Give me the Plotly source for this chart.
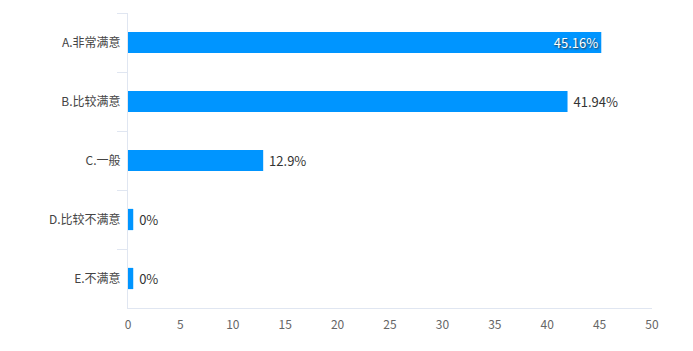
import plotly.graph_objects as go

categories = ["A.非常满意", "B.比较满意", "C.一般", "D.比较不满意", "E.不满意"]
values = [45.16, 41.94, 12.9, 0, 0]
value_labels = ["45.16%", "41.94%", "12.9%", "0%", "0%"]
x_ticks = [0, 5, 10, 15, 20, 25, 30, 35, 40, 45, 50]

MIN_BAR = 0.5  # minimum visible bar length (like a min bar height)
display_values = [v if v > MIN_BAR else MIN_BAR for v in values]
positions = ["inside" if i == 0 else "outside" for i in range(len(values))]

FONT = "Noto Sans CJK SC, Microsoft YaHei, sans-serif"
AXIS_COLOR = "#e0e6f1"

fig = go.Figure(
    go.Bar(
        x=display_values,
        y=categories,
        orientation="h",
        marker=dict(color="#0095ff", line=dict(width=0)),
        text=value_labels,
        texttemplate=" %{text}",
        textposition=positions,
        insidetextanchor="end",
        insidetextfont=dict(family=FONT, size=13, color="#ffffff",
                            shadow="1px 1px 2px #333333"),
        outsidetextfont=dict(family=FONT, size=13, color="#333333"),
        constraintext="none",
        cliponaxis=False,
        hoverinfo="skip",
    )
)

fig.update_layout(
    width=693,
    height=351,
    margin=dict(l=128, r=41, t=13, b=43),
    paper_bgcolor="white",
    plot_bgcolor="white",
    bargap=0.64,
    showlegend=False,
    font=dict(family=FONT, size=12, color="#666666"),
    uniformtext=dict(mode="show", minsize=13),
)

fig.update_xaxes(
    range=[0, 50],
    tickvals=x_ticks,
    showgrid=False,
    zeroline=False,
    showline=True,
    linecolor=AXIS_COLOR,
    linewidth=1,
    ticks="",
    ticklabelstandoff=6,
    tickfont=dict(family=FONT, size=12, color="#666666"),
    fixedrange=True,
)

fig.update_yaxes(
    categoryorder="array",
    categoryarray=categories,
    autorange="reversed",
    showgrid=False,
    zeroline=False,
    showline=True,
    linecolor=AXIS_COLOR,
    linewidth=1,
    ticks="outside",
    tickson="boundaries",
    ticklen=10,
    tickcolor=AXIS_COLOR,
    tickwidth=1,
    ticklabelstandoff=4,
    tickfont=dict(family=FONT, size=12, color="#444444"),
    fixedrange=True,
)

fig.write_html("out.html")
